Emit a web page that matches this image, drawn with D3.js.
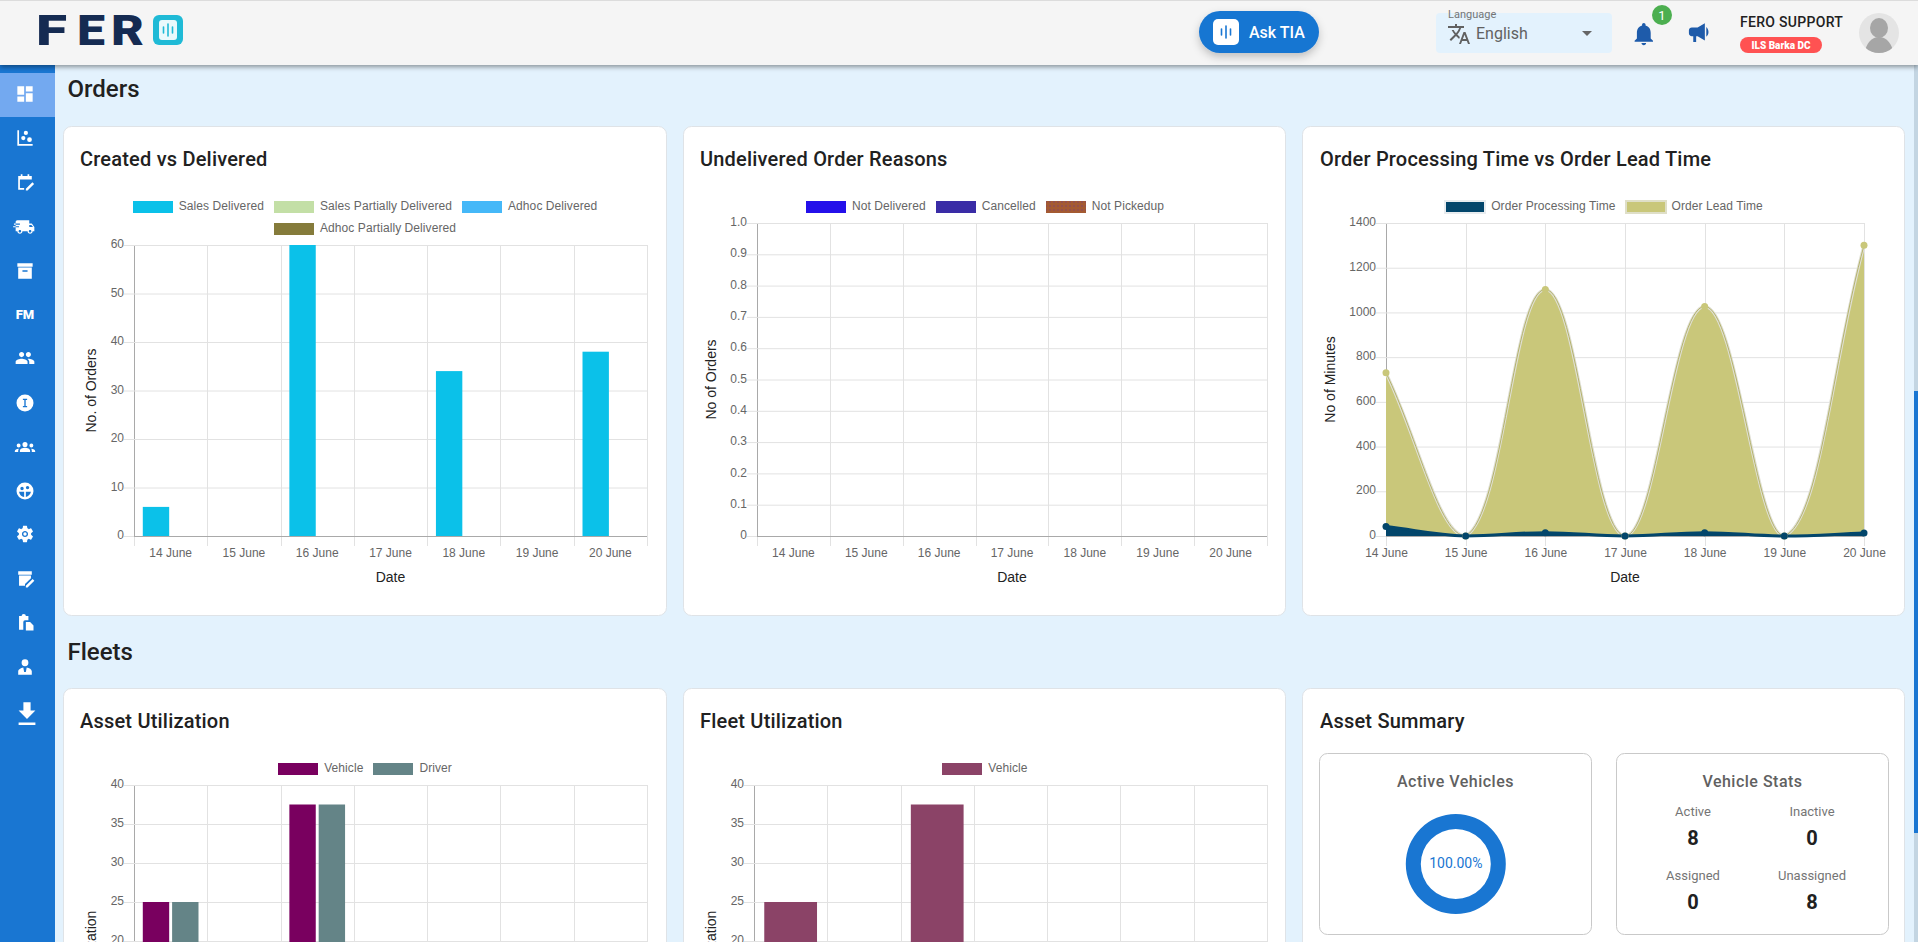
<!DOCTYPE html>
<html>
<head>
<meta charset="utf-8">
<script src="https://cdn.jsdelivr.net/npm/d3@7"></script>
<style>
  html, body { margin: 0; padding: 0; background: #e3f2fd; overflow: hidden; }
  svg { display: block; font-family: Roboto, sans-serif; }
  .tick text { font-family: "Liberation Sans", Arial, sans-serif; font-size: 12px; fill: #666; }
</style>
</head>
<body>
<svg id="page" width="1918" height="942"></svg>
<script>
const dates = ["14 June", "15 June", "16 June", "17 June", "18 June", "19 June", "20 June"];

// created vs delivered
const salesDelivered = [6, 0, 60, 0, 34, 0, 38];
const salesPartial = [0, 0, 0, 0, 0, 0, 0];
const adhocDelivered = [0, 0, 0, 0, 0, 0, 0];
const adhocPartial = [0, 0, 0, 0, 0, 0, 0];
const createdTicks = [0, 10, 20, 30, 40, 50, 60];

// undelivered reasons, all empty in the picture
const notDelivered = [0, 0, 0, 0, 0, 0, 0];
const cancelled = [0, 0, 0, 0, 0, 0, 0];
const notPickedUp = [0, 0, 0, 0, 0, 0, 0];
const reasonTicks = [0, 0.1, 0.2, 0.3, 0.4, 0.5, 0.6, 0.7, 0.8, 0.9, 1];
const reasonTickLabels = ["0", "0.1", "0.2", "0.3", "0.4", "0.5", "0.6", "0.7", "0.8", "0.9", "1.0"];

// minutes
const orderProcessing = [42, 0, 15, 0, 15, 0, 13];
const orderLead = [730, 0, 1103, 0, 1027, 0, 1300];
const minuteTicks = [0, 200, 400, 600, 800, 1000, 1200, 1400];

// utilization, the lower part of these two charts is below the fold
const assetVehicle = [25, 0, 37.5, 0, 0, 0, 0];
const assetDriver = [25, 0, 37.5, 0, 0, 0, 0];
const fleetVehicle = [25, 0, 37.5, 0, 0, 0, 0];
const utilTicks = [20, 25, 30, 35, 40];

// asset summary
const activeShare = [100];
const statLabels = ["Active", "Inactive", "Assigned", "Unassigned"];
const statValues = [8, 0, 0, 8];

const GRID = "#e2e2e2";
const AXIS = "#a9a9a9";
const ARIAL = "Liberation Sans, Arial, sans-serif";

const svg = d3.select("#page");
const defs = svg.append("defs");

let shadow = defs.append("filter").attr("id", "hdrShadow")
  .attr("x", "-5%").attr("y", "-20%").attr("width", "110%").attr("height", "160%");
shadow.append("feDropShadow").attr("dx", 0).attr("dy", 2).attr("stdDeviation", 2.5)
  .attr("flood-color", "#000").attr("flood-opacity", 0.4);

let btnShadow = defs.append("filter").attr("id", "btnShadow")
  .attr("x", "-20%").attr("y", "-30%").attr("width", "140%").attr("height", "190%");
btnShadow.append("feDropShadow").attr("dx", 0).attr("dy", 4).attr("stdDeviation", 4)
  .attr("flood-color", "#000").attr("flood-opacity", 0.22);

let dots = defs.append("pattern").attr("id", "dots")
  .attr("width", 4).attr("height", 4).attr("patternUnits", "userSpaceOnUse");
dots.append("rect").attr("width", 4).attr("height", 4).attr("fill", "#a45a32");
dots.append("circle").attr("cx", 2).attr("cy", 2).attr("r", 0.7).attr("fill", "#7a3f7a");

function label(parent, x, y, str, o = {}) {
  return parent.append("text")
    .attr("x", x).attr("y", y)
    .attr("text-anchor", o.anchor || "start")
    .attr("font-family", o.family || "Roboto, sans-serif")
    .attr("font-size", o.size || 12)
    .attr("font-weight", o.weight || 400)
    .attr("letter-spacing", o.spacing || null)
    .attr("fill", o.fill || "#212121")
    .text(str);
}

function card(x, y, w, h) {
  svg.append("rect")
    .attr("x", x + 0.5).attr("y", y + 0.5).attr("width", w).attr("height", h)
    .attr("rx", 8).attr("fill", "#fff").attr("stroke", "#dfe3e7");
}

function legend(cx, top, items) {
  let g = svg.append("g");
  const style = { family: ARIAL, fill: "#666", spacing: 0.08 };
  // chart.js style: measure, wrap at the canvas width, centre each row
  let rows = [[]], used = 0;
  items.forEach(it => {
    let t = label(g, 0, 0, it.name, style);
    it.w = 46 + t.node().getComputedTextLength();
    t.remove();
    if (used + it.w > 570 && rows[0].length) { rows.push([]); used = 0; }
    rows[rows.length - 1].push(it);
    used += it.w + 10;
  });
  rows.forEach((row, r) => {
    let total = d3.sum(row, d => d.w) + 10 * (row.length - 1);
    let x = cx - total / 2;
    let y = top + r * 22;
    row.forEach(it => {
      g.append("rect").attr("x", Math.round(x)).attr("y", y).attr("width", 40).attr("height", 12)
        .attr("fill", it.pattern || it.color)
        .attr("stroke", it.border || "none").attr("stroke-width", it.border ? 2 : 0);
      label(g, x + 46, y + 9, it.name, style);
      x += it.w + 10;
    });
  });
}

function axes(o, x, gridX) {
  let y = d3.scaleLinear().domain([0, o.max]).range([o.bottom, o.top]);
  let g = svg.append("g");

  g.selectAll(".vgrid")
    .data(gridX)
    .enter()
    .append("line")
    .attr("class", "vgrid")
    .attr("x1", d => Math.round(d) + 0.5).attr("x2", d => Math.round(d) + 0.5)
    .attr("y1", o.top).attr("y2", o.bottom + 10)
    .attr("stroke", GRID);

  let yAxis = g.append("g")
    .attr("transform", `translate(${o.left},0)`)
    .call(d3.axisLeft(y).tickValues(o.ticks).tickSize(10).tickSizeOuter(0).tickPadding(0)
      .tickFormat((d, i) => (o.tickLabels ? o.tickLabels[i] : d)));
  yAxis.selectAll(".tick line").attr("stroke", GRID);
  yAxis.selectAll(".tick").append("line")
    .attr("x2", o.right - o.left)
    .attr("stroke", d => (d === 0 ? AXIS : GRID));
  yAxis.selectAll(".tick text").attr("dy", ".22em");
  yAxis.select(".domain").attr("stroke", AXIS);

  label(g, 0, 0, o.yTitle, { family: ARIAL, size: 14, anchor: "middle", fill: "#222" })
    .attr("dy", ".35em")
    .attr("transform", `translate(${o.titleX},${(o.top + o.bottom) / 2}) rotate(-90)`);

  // the x axis of the two lower charts is off the page
  if (o.bottom < 942) {
    let xAxis = g.append("g")
      .attr("transform", `translate(0,${o.bottom})`)
      .call(d3.axisBottom(x).tickSize(0).tickPadding(12));
    xAxis.select(".domain").remove();
    label(g, (o.left + o.right) / 2, o.bottom + 46, "Date", { family: ARIAL, size: 14, anchor: "middle", fill: "#222" });
  }
  return y;
}

function barChart(o) {
  let x = d3.scaleBand().domain(dates).range([o.left, o.right]);
  let groups = Array.from(new Set(o.series.map(s => s.group)));
  let inner = d3.scaleBand().domain(groups)
    .range([x.bandwidth() * 0.1, x.bandwidth() * 0.9])
    .paddingInner(0.1).paddingOuter(0.05);

  let grid = dates.map(d => x(d)).concat(o.right);
  let y = axes(o, x, grid);
  legend(o.cx, o.legendTop, o.series);

  o.series.forEach(s => {
    svg.append("g")
      .selectAll("rect")
      .data(s.values.map((v, i) => ({ v, date: dates[i] })).filter(d => d.v > 0))
      .enter()
      .append("rect")
      .attr("x", d => x(d.date) + inner(s.group))
      .attr("width", inner.bandwidth())
      .attr("y", d => y(d.v))
      .attr("height", d => y(0) - y(d.v))
      .attr("fill", s.color);
  });
}

// d3 curve doing the chart.js bezier: tension 0.4, control points kept inside the plot
function splineCurve(box) {
  return function(ctx) {
    let pts, inArea = false, first = true;
    const cap = p => [Math.max(box.left, Math.min(box.right, p[0])), Math.max(box.top, Math.min(box.bottom, p[1]))];
    return {
      areaStart() { inArea = true; first = true; },
      areaEnd() { ctx.closePath(); inArea = false; },
      lineStart() { pts = []; },
      point(x, y) { pts.push([+x, +y]); },
      lineEnd() {
        if (inArea && !first) ctx.lineTo(pts[0][0], pts[0][1]);
        else ctx.moveTo(pts[0][0], pts[0][1]);
        first = false;
        const t = 0.4;
        let ctrl = pts.map((p, i) => {
          let a = pts[i - 1] || p, b = pts[i + 1] || p;
          let d1 = Math.hypot(p[0] - a[0], p[1] - a[1]), d2 = Math.hypot(b[0] - p[0], b[1] - p[1]);
          let s = d1 + d2 || 1;
          let fa = t * d1 / s, fb = t * d2 / s;
          return {
            before: cap([p[0] - fa * (b[0] - a[0]), p[1] - fa * (b[1] - a[1])]),
            after: cap([p[0] + fb * (b[0] - a[0]), p[1] + fb * (b[1] - a[1])])
          };
        });
        for (let i = 1; i < pts.length; i++) {
          ctx.bezierCurveTo(ctrl[i - 1].after[0], ctrl[i - 1].after[1], ctrl[i].before[0], ctrl[i].before[1], pts[i][0], pts[i][1]);
        }
      }
    };
  };
}

function areaChart(o) {
  let x = d3.scalePoint().domain(dates).range([o.left, o.right]);
  let y = axes(o, x, dates.map(d => x(d)));
  legend(o.cx, o.legendTop, o.series);

  const curve = splineCurve(o);
  let area = d3.area().x((d, i) => x(dates[i])).y0(y(0)).y1(d => y(d)).curve(curve);
  let line = d3.line().x((d, i) => x(dates[i])).y(d => y(d)).curve(curve);

  let g = svg.append("g");
  o.series.slice().reverse().forEach(s => {
    g.append("path").attr("d", area(s.values)).attr("fill", s.color);
    g.append("path").attr("d", line(s.values)).attr("fill", "none").attr("stroke", s.halo).attr("stroke-width", 3);
    g.append("path").attr("d", line(s.values)).attr("fill", "none").attr("stroke", s.edge).attr("stroke-width", 1);
  });
  o.series.slice().reverse().forEach(s => {
    svg.append("g")
      .selectAll("circle")
      .data(s.values)
      .enter()
      .append("circle")
      .attr("cx", (d, i) => x(dates[i]))
      .attr("cy", d => y(d))
      .attr("r", 3.5)
      .attr("fill", s.color);
  });
}

// page furniture first
const icons = [
  "M3 13h8V3H3v10zm0 8h8v-6H3v6zm10 0h8V11h-8v10zm0-18v6h8V3h-8z",
  "M3 3h2v16h16v2H3zM7.5 12a2.5 2.5 0 1 0 5 0a2.5 2.5 0 1 0-5 0zM10.5 6a2.5 2.5 0 1 0 5 0a2.5 2.5 0 1 0-5 0zM14.5 14a2.8 2.8 0 1 0 5.6 0a2.8 2.8 0 1 0-5.6 0z",
  "M4 5h3V3h2v2h6V3h2v2h3v4H6v10h5v2H4zM20.7 12.3l2 2L15 22h-2v-2z",
  "M20 8h-3V4H3c-1.1 0-2 .9-2 2v11h2c0 1.66 1.34 3 3 3s3-1.34 3-3h6c0 1.66 1.34 3 3 3s3-1.34 3-3h2v-5l-3-4zM6 18.5c-.83 0-1.5-.67-1.5-1.5s.67-1.5 1.5-1.5 1.5.67 1.5 1.5-.67 1.5-1.5 1.5zm13.5-9l1.96 2.5H17V9.5h2.5zm-1.5 9c-.83 0-1.5-.67-1.5-1.5s.67-1.5 1.5-1.5 1.5.67 1.5 1.5-.67 1.5-1.5 1.5zM-1 8h7v1.3H-1zM-2 11h7v1.3H-2z",
  "M3 3h18v4H3zM4 8h16v13H4zM9 11v2h6v-2z",
  null,
  "M16 11c1.66 0 2.99-1.34 2.99-3S17.66 5 16 5c-1.66 0-3 1.34-3 3s1.34 3 3 3zm-8 0c1.66 0 2.99-1.34 2.99-3S9.66 5 8 5C6.34 5 5 6.34 5 8s1.34 3 3 3zm0 2c-2.33 0-7 1.17-7 3.5V19h14v-2.5c0-2.33-4.67-3.5-7-3.5zm8 0c-.29 0-.62.02-.97.05 1.16.84 1.97 1.97 1.97 3.45V19h6v-2.5c0-2.33-4.67-3.5-7-3.5z",
  "M12 2a10 10 0 1 0 0 20a10 10 0 1 0 0-20zM9.5 7v1.6h1.7v6.8H9.5V17h5v-1.6h-1.7V8.6h1.7V7z",
  "M12 6a3 3 0 1 0 0 6a3 3 0 1 0 0-6zM4.5 8a2.3 2.3 0 1 0 0 4.6a2.3 2.3 0 1 0 0-4.6zM19.5 8a2.3 2.3 0 1 0 0 4.6a2.3 2.3 0 1 0 0-4.6zM6 18v-1.5c0-2 3-3.5 6-3.5s6 1.5 6 3.5V18zM0 18v-1c0-1.6 2-2.8 4.5-2.8h.3c-.5.7-.8 1.5-.8 2.3V18zM24 18v-1c0-1.6-2-2.8-4.5-2.8h-.3c.5.7.8 1.5.8 2.3V18z",
  "M12 2a10 10 0 1 0 0 20a10 10 0 1 0 0-20zM8.5 7a2 2 0 1 0 0 4a2 2 0 1 0 0-4zM15 6a2 2 0 1 0 0 4a2 2 0 1 0 0-4zM5 13h6v6c-3 0-5.5-2.5-6-6zM13 13h6c-.5 3-3 5.5-6 6z",
  "M19.14 12.94c.04-.3.06-.61.06-.94 0-.32-.02-.64-.07-.94l2.03-1.58a.49.49 0 0 0 .12-.61l-1.92-3.32a.488.488 0 0 0-.59-.22l-2.39.96c-.5-.38-1.03-.7-1.62-.94l-.36-2.54a.484.484 0 0 0-.48-.41h-3.84c-.24 0-.43.17-.47.41l-.36 2.54c-.59.24-1.13.57-1.62.94l-2.39-.96c-.22-.08-.47 0-.59.22L2.74 8.87c-.12.21-.08.47.12.61l2.03 1.58c-.05.3-.09.63-.09.94s.02.64.07.94l-2.03 1.58a.49.49 0 0 0-.12.61l1.92 3.32c.12.22.37.29.59.22l2.39-.96c.5.38 1.03.7 1.62.94l.36 2.54c.05.24.24.41.48.41h3.84c.24 0 .44-.17.47-.41l.36-2.54c.59-.24 1.13-.56 1.62-.94l2.39.96c.22.08.47 0 .59-.22l1.92-3.32c.12-.22.07-.47-.12-.61l-2.01-1.58zM12 15.6c-1.98 0-3.6-1.62-3.6-3.6s1.62-3.6 3.6-3.6 3.6 1.62 3.6 3.6-1.62 3.6-3.6 3.6zM12 10a2 2 0 1 0 0 4a2 2 0 1 0 0-4z",
  "M4 3h16v4H4zM5 8h14v3l-7 7v2H5zM21 12l2 2-8 8h-2v-2z",
  "M5 5h3a2.5 2.5 0 0 1 5 0h3v5h-4a2 2 0 0 0-2 2v9H5zM13 12h5l4 4v6h-9z",
  "M12 3a4 4 0 1 0 0 8a4 4 0 1 0 0-8zM4 21v-4c0-2 3-4 6-4.5l1 5.5h2l1-5.5c3 .5 6 2 6 4.5v4z",
  "M5 22h14v-2H5v2zM19 10h-4V3H9v7H5l7 7 7-7z"
];
const iconY = [94, 138, 182, 227, 271, 314, 358, 403, 447, 491, 534, 579, 622, 667, 713];

// scrollbar
svg.append("rect").attr("x", 1914).attr("y", 65).attr("width", 4).attr("height", 877).attr("fill", "#c3d5e2");
svg.append("rect").attr("x", 1914).attr("y", 391).attr("width", 4).attr("height", 442).attr("fill", "#1976d2");

// sidebar
svg.append("rect").attr("x", 0).attr("y", 60).attr("width", 55).attr("height", 882).attr("fill", "#1976d2");
svg.append("rect").attr("x", 0).attr("y", 73).attr("width", 55).attr("height", 44).attr("fill", "#73a9f0");
icons.forEach((p, i) => {
  let cx = i === 14 ? 27 : 25;
  let s = i === 14 ? 1.2 : 0.85;
  if (p === null) {
    label(svg, cx, iconY[i] + 5, "FM", { size: 13, weight: 900, fill: "#fff", anchor: "middle" });
    return;
  }
  svg.append("path")
    .attr("d", p)
    .attr("fill", "#fff")
    .attr("fill-rule", "evenodd")
    .attr("transform", `translate(${cx - 12 * s},${iconY[i] - 12 * s}) scale(${s})`);
});

// header
svg.append("rect").attr("x", 0).attr("y", 0).attr("width", 1918).attr("height", 65)
  .attr("fill", "#f5f5f5").attr("filter", "url(#hdrShadow)");
svg.append("rect").attr("x", 0).attr("y", 0).attr("width", 1918).attr("height", 1).attr("fill", "#dcdcdc");

[["F", 36, 31], ["E", 77, 28], ["R", 111, 33]].forEach(([ch, x, w]) => {
  label(svg, x, 45, ch, { size: 42, weight: 900, fill: "#152b52" })
    .attr("textLength", w).attr("lengthAdjust", "spacingAndGlyphs");
});

function tiaMark(x, y, w, h, rx, bg, fg) {
  svg.append("rect").attr("x", x).attr("y", y).attr("width", w).attr("height", h).attr("rx", rx).attr("fill", bg);
  let cx = x + w / 2, cy = y + h / 2;
  [[-4.5, 3], [0, 6], [4.5, 3]].forEach(([dx, half]) => {
    svg.append("line").attr("x1", cx + dx).attr("x2", cx + dx).attr("y1", cy - half).attr("y2", cy + half)
      .attr("stroke", fg).attr("stroke-width", 1.6).attr("stroke-linecap", "round");
  });
}
svg.append("rect").attr("x", 153).attr("y", 15).attr("width", 30).attr("height", 30).attr("rx", 6).attr("fill", "#1fbad6");
tiaMark(159, 20, 18, 20, 3, "#e9f9fc", "#1fbad6");

svg.append("rect").attr("x", 1199).attr("y", 11).attr("width", 120).attr("height", 42).attr("rx", 21)
  .attr("fill", "#1976d2").attr("filter", "url(#btnShadow)");
tiaMark(1213, 19, 26, 26, 5, "#fff", "#1976d2");
label(svg, 1249, 38, "Ask TIA", { size: 16, weight: 500, fill: "#fff" });

svg.append("rect").attr("x", 1436).attr("y", 13).attr("width", 176).attr("height", 40).attr("rx", 4).attr("fill", "#e3f2fd");
label(svg, 1448, 18, "Language", { size: 11, fill: "#757575" });
svg.append("path")
  .attr("d", "M12.87 15.07l-2.54-2.51.03-.03c1.74-1.94 2.98-4.17 3.71-6.53H17V4h-7V2H8v2H1v1.99h11.17C11.5 7.92 10.44 9.75 9 11.35 8.07 10.32 7.3 9.19 6.69 8h-2c.73 1.63 1.73 3.17 2.98 4.56l-5.09 5.02L4 19l5-5 3.11 3.11.76-2.04zM18.5 10h-2L12 22h2l1.12-3h4.75L21 22h2l-4.5-12zm-2.62 7l1.62-4.33L19.12 17h-3.24z")
  .attr("fill", "#616161")
  .attr("transform", "translate(1447,22)");
label(svg, 1476, 39, "English", { size: 16, fill: "#616161" });
svg.append("path").attr("d", "M1582 31h10l-5 5z").attr("fill", "#666");

svg.append("path")
  .attr("d", "M12 22c1.1 0 2-.9 2-2h-4c0 1.1.89 2 2 2zm6-6v-5c0-3.07-1.64-5.64-4.5-6.32V4c0-.83-.67-1.5-1.5-1.5s-1.5.67-1.5 1.5v.68C7.63 5.36 6 7.92 6 11v5l-2 2v1h16v-1l-2-2z")
  .attr("fill", "#1e5baa")
  .attr("transform", "translate(1630,20) scale(1.15)");
svg.append("circle").attr("cx", 1662).attr("cy", 15).attr("r", 10).attr("fill", "#4caf50");
label(svg, 1662, 20, "1", { size: 13, fill: "#fff", anchor: "middle" });
svg.append("path")
  .attr("d", "M4 9c-1.1 0-2 .9-2 2v2c0 1.1.9 2 2 2h1v4h2v-4h1l5 3V6L8 9H4zm11.5 3c0-1.33-.58-2.53-1.5-3.35v6.69c.92-.81 1.5-2.01 1.5-3.34z")
  .attr("fill", "#1e5baa")
  .attr("transform", "translate(1686,14.5) scale(1.45)");

label(svg, 1740, 27, "FERO SUPPORT", { size: 14, weight: 500, fill: "#212121", spacing: 0.3 });
svg.append("rect").attr("x", 1740).attr("y", 37).attr("width", 82).attr("height", 16).attr("rx", 8).attr("fill", "#ff5252");
label(svg, 1781, 49, "ILS Barka DC", { size: 10, weight: 900, fill: "#fff", anchor: "middle" });

defs.append("clipPath").attr("id", "avatarClip")
  .append("circle").attr("cx", 1879).attr("cy", 33).attr("r", 20);
let avatar = svg.append("g").attr("clip-path", "url(#avatarClip)");
avatar.append("rect").attr("x", 1859).attr("y", 13).attr("width", 40).attr("height", 40).attr("fill", "#e4e4e4");
avatar.append("ellipse").attr("cx", 1879).attr("cy", 28).attr("rx", 9).attr("ry", 10).attr("fill", "#a6a6a6");
avatar.append("ellipse").attr("cx", 1879).attr("cy", 54).attr("rx", 14).attr("ry", 17).attr("fill", "#a6a6a6");

// sections
label(svg, 67.5, 97, "Orders", { size: 24, weight: 500 });
label(svg, 67.5, 660, "Fleets", { size: 24, weight: 500 });

[[63, 126, 603, 489], [683, 126, 602, 489], [1302, 126, 602, 489],
 [63, 688, 603, 300], [683, 688, 602, 300], [1302, 688, 602, 300]].forEach(c => card(...c));

const titleStyle = { size: 20, weight: 500, spacing: 0.2 };
label(svg, 80, 166, "Created vs Delivered", titleStyle);
label(svg, 700, 166, "Undelivered Order Reasons", titleStyle);
label(svg, 1320, 166, "Order Processing Time vs Order Lead Time", titleStyle);
label(svg, 80, 728, "Asset Utilization", titleStyle);
label(svg, 700, 728, "Fleet Utilization", titleStyle);
label(svg, 1320, 728, "Asset Summary", titleStyle);

barChart({
  left: 134, right: 647, top: 245, bottom: 536, max: 60, ticks: createdTicks,
  yTitle: "No. of Orders", titleX: 91, cx: 365, legendTop: 201,
  series: [
    { name: "Sales Delivered", values: salesDelivered, color: "#0bc1e9", group: "sales" },
    { name: "Sales Partially Delivered", values: salesPartial, color: "#c3dfa6", group: "sales" },
    { name: "Adhoc Delivered", values: adhocDelivered, color: "#45b8f8", group: "adhoc" },
    { name: "Adhoc Partially Delivered", values: adhocPartial, color: "#857b3b", group: "adhoc" }
  ]
});

barChart({
  left: 757, right: 1267, top: 223, bottom: 536, max: 1, ticks: reasonTicks, tickLabels: reasonTickLabels,
  yTitle: "No of Orders", titleX: 711.5, cx: 985, legendTop: 201,
  series: [
    { name: "Not Delivered", values: notDelivered, color: "#2410ea", group: "a" },
    { name: "Cancelled", values: cancelled, color: "#3a2ca6", group: "b" },
    { name: "Not Pickedup", values: notPickedUp, color: "#a45a32", pattern: "url(#dots)", group: "c" }
  ]
});

areaChart({
  left: 1386, right: 1864, top: 223, bottom: 536, max: 1400, ticks: minuteTicks,
  yTitle: "No of Minutes", titleX: 1330, cx: 1604, legendTop: 201,
  series: [
    { name: "Order Processing Time", values: orderProcessing, color: "#03466b", border: "#e8ecef", edge: "#03466b", halo: "#03466b" },
    { name: "Order Lead Time", values: orderLead, color: "#c9c77a", border: "#dfdfc8", edge: "#b5b36c", halo: "#e0e0d6" }
  ]
});

barChart({
  left: 134, right: 647, top: 785, bottom: 1097, max: 40, ticks: utilTicks,
  yTitle: "Utilization", titleX: 91, cx: 365, legendTop: 763,
  series: [
    { name: "Vehicle", values: assetVehicle, color: "#79005f", group: "vehicle" },
    { name: "Driver", values: assetDriver, color: "#648487", group: "driver" }
  ]
});

barChart({
  left: 754, right: 1267, top: 785, bottom: 1097, max: 40, ticks: utilTicks,
  yTitle: "Utilization", titleX: 711, cx: 985, legendTop: 763,
  series: [
    { name: "Vehicle", values: fleetVehicle, color: "#8b4367", group: "vehicle" }
  ]
});

// asset summary boxes
[[1319, 272], [1616, 272]].forEach(([x, w]) => {
  svg.append("rect").attr("x", x + 0.5).attr("y", 753.5).attr("width", w).attr("height", 181)
    .attr("rx", 8).attr("fill", "#fff").attr("stroke", "#c9c9c9");
});
const boxTitle = { size: 16, weight: 500, fill: "#616161", anchor: "middle", spacing: 0.5 };
label(svg, 1455.5, 787, "Active Vehicles", boxTitle);
label(svg, 1752.5, 787, "Vehicle Stats", boxTitle);

let ring = d3.arc().innerRadius(35).outerRadius(50);
svg.append("g")
  .attr("transform", "translate(1455.8,864)")
  .selectAll("path")
  .data(d3.pie()(activeShare))
  .enter()
  .append("path")
  .attr("d", ring)
  .attr("fill", "#1976d2");
label(svg, 1455.8, 868, `${d3.format(".2f")(activeShare[0])}%`, { size: 14, fill: "#1976d2", anchor: "middle" });

let statX = d3.scalePoint().domain([0, 1]).range([1693, 1812]);
let statY = d3.scalePoint().domain([0, 1]).range([816, 880]);
statLabels.forEach((s, i) => {
  let col = i % 2, row = Math.floor(i / 2);
  label(svg, statX(col), statY(row), s, { size: 13, fill: "#757575", anchor: "middle" });
  label(svg, statX(col), statY(row) + 29, statValues[i], { size: 20, weight: 700, fill: "#212121", anchor: "middle" });
});
</script>
</body>
</html>
